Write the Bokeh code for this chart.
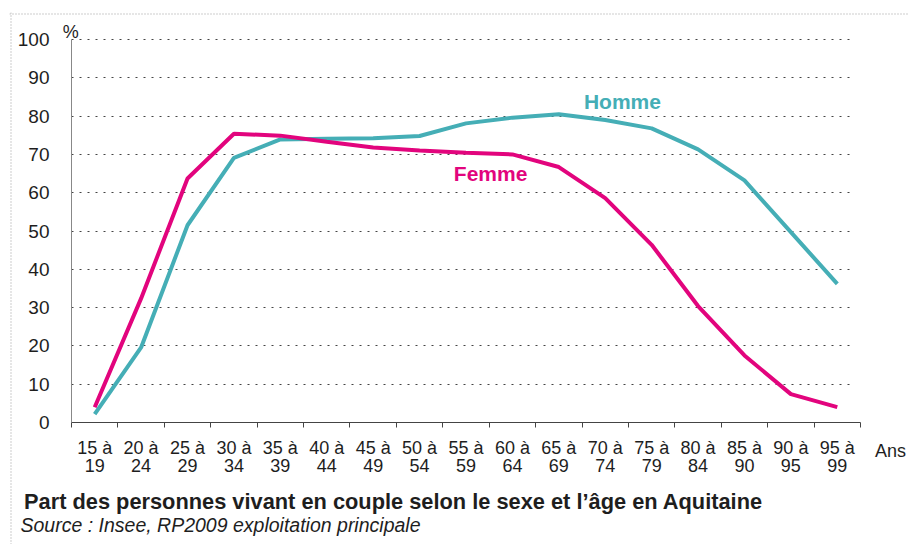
from bokeh.plotting import figure
from bokeh.models import Range1d, FixedTicker, Label, Span
from bokeh.embed import file_html
from bokeh.resources import INLINE

# ---- data ----
age_groups = ["15 à\n19", "20 à\n24", "25 à\n29", "30 à\n34", "35 à\n39", "40 à\n44",
              "45 à\n49", "50 à\n54", "55 à\n59", "60 à\n64", "65 à\n69", "70 à\n74",
              "75 à\n79", "80 à\n84", "85 à\n90", "90 à\n95", "95 à\n99"]
homme = [2.2, 19.6, 51.5, 69.1, 73.9, 74.1, 74.2, 74.8, 78.1, 79.6, 80.5, 79.0,
         76.8, 71.3, 63.2, 49.7, 36.2]
femme = [4.0, 32.4, 63.7, 75.4, 74.9, 73.3, 71.8, 71.0, 70.4, 70.0, 66.7, 58.6,
         46.4, 30.4, 17.5, 7.4, 4.0]
y_ticks = list(range(0, 101, 10))
x_unit_label = "Ans"
y_unit_label = "%"
title_text = "Part des personnes vivant en couple selon le sexe et l’âge en Aquitaine"
source_text = "Source : Insee, RP2009 exploitation principale"

TEAL = "#45AEB6"
MAGENTA = "#E2047D"
TXT = "#1e1e1e"
FONT = "Liberation Sans"

n = len(age_groups)
xs = list(range(n))

# ---- layout (pixels) ----
W, H = 909, 544
FL, FT = 9, 12                 # frame left / top inside the canvas
AX_X, AX_Y0, AX_Y100 = 71, 422, 39   # where the axes sit
X_END_PX = 860                 # right end of the x axis
PXU = (X_END_PX - AX_X) / n    # pixels per category
PYU = (AX_Y0 - AX_Y100) / 100.0  # pixels per percent


def ux(px):
    return (px - AX_X) / PXU - 0.5


def uy(py):
    return (AX_Y0 - py) / PYU


p = figure(width=W, height=H, output_backend="svg", toolbar_location=None,
           x_range=Range1d(ux(FL), ux(W)), y_range=Range1d(uy(H), uy(FT)),
           min_border_left=FL, min_border_right=0, min_border_top=FT,
           min_border_bottom=0)
p.title.visible = False
p.outline_line_color = None
p.xgrid.grid_line_color = None
p.ygrid.ticker = FixedTicker(ticks=y_ticks)
p.ygrid.grid_line_color = "#444444"
p.ygrid.grid_line_dash = "2 6"
p.ygrid.grid_line_width = 1
if "cross_bounds" in p.ygrid[0].properties():
    p.ygrid.cross_bounds = (-0.5, n - 0.6)

# y axis
p.yaxis.fixed_location = -0.5
p.yaxis.bounds = (0, 100)
p.yaxis.ticker = FixedTicker(ticks=y_ticks)
p.yaxis.axis_line_color = "#888888"
p.yaxis.major_tick_line_color = None
p.yaxis.minor_tick_line_color = None
p.yaxis.major_label_text_font = FONT
p.yaxis.major_label_text_font_size = "19px"
p.yaxis.major_label_text_color = TXT
p.yaxis.major_label_standoff = 16

# x axis: category labels at centers, ticks at category boundaries
p.xaxis.fixed_location = 0
p.xaxis.bounds = (-0.5, n - 0.5)
p.xaxis.ticker = FixedTicker(ticks=xs, minor_ticks=[i - 0.5 for i in range(n + 1)])
p.xaxis.major_label_overrides = {i: lab for i, lab in enumerate(age_groups)}
p.xaxis.axis_line_color = "#444444"
p.xaxis.major_tick_line_color = None
p.xaxis.minor_tick_line_color = "#444444"
p.xaxis.minor_tick_in = 0
p.xaxis.minor_tick_out = 5
p.xaxis.major_label_text_font = FONT
p.xaxis.major_label_text_font_size = "18px"
p.xaxis.major_label_text_color = TXT
p.xaxis.major_label_text_line_height = 0.9
p.xaxis.major_label_standoff = 9

p.line(xs, homme, line_width=4, line_color=TEAL)
p.line(xs, femme, line_width=4, line_color=MAGENTA)

p.add_layout(Label(x=11.37, y=83.8, text="Homme", text_font=FONT, text_font_size="21px",
                   text_font_style="bold", text_color=TEAL, text_align="center",
                   text_baseline="middle"))
p.add_layout(Label(x=8.53, y=65.0, text="Femme", text_font=FONT, text_font_size="21px",
                   text_font_style="bold", text_color=MAGENTA, text_align="center",
                   text_baseline="middle"))


def page_label(text, px, py, size, style="normal", align="left"):
    return Label(x=ux(px), y=uy(py), text=text, text_font=FONT,
                 text_font_size=size, text_font_style=style, text_color=TXT,
                 text_align=align, text_baseline="middle")


p.add_layout(page_label(y_unit_label, 70.3, 31, "18px", align="center"))
p.add_layout(page_label(x_unit_label, 874.5, 450, "18px"))
p.add_layout(page_label(title_text, 23.5, 501, "21.8px", style="bold"))
p.add_layout(page_label(source_text, 20, 524, "19.5px", style="italic"))

# dotted outer frame (top and left edges)
p.add_layout(Span(location=uy(13.5), dimension="width", line_color="#9a9a9a",
                  line_width=1, line_dash="1 2"))
p.add_layout(Span(location=ux(10.5), dimension="height", line_color="#9a9a9a",
                  line_width=1, line_dash="1 2"))

open("out.html", "w").write(file_html(p, INLINE))
